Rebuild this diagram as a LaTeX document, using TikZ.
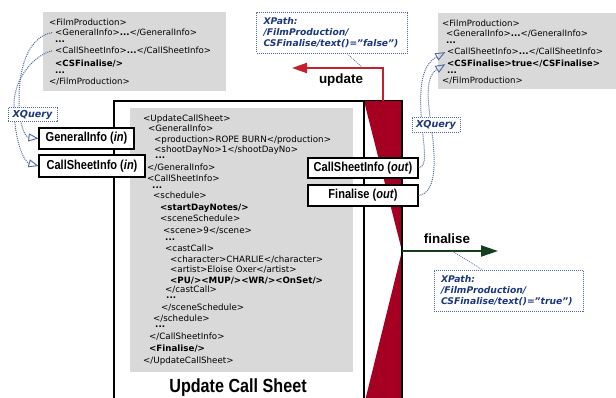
\documentclass[tikz,border=0pt]{standalone}
\usepackage{fontspec}
\setmainfont{DejaVu Sans}[ItalicFont={DejaVu Sans Oblique},BoldItalicFont={DejaVu Sans Bold Oblique}]
\newfontfamily\labelfont[FakeStretch=0.85]{Liberation Sans}
\newfontfamily\headfont{Liberation Sans}
\usetikzlibrary{arrows.meta,calc}

\definecolor{greybox}{RGB}{217,217,217}
\definecolor{barred}{RGB}{165,0,33}
\definecolor{arrowred}{RGB}{196,32,44}
\definecolor{darkgreen}{RGB}{22,62,30}
\definecolor{linkblue}{RGB}{80,104,155}
\definecolor{navy}{RGB}{28,55,125}

\tikzset{
  code/.style={anchor=base west, inner sep=0pt, font=\fontsize{8.7}{10}\selectfont},
  filmcode/.style={anchor=base west, inner sep=0pt, font=\fontsize{8.6}{10}\selectfont},
  tagbox/.style={draw, fill=white, line width=1.1pt, inner sep=0pt,
    font=\labelfont\bfseries\fontsize{13}{14}\selectfont},
  dots/.style={line width=1pt, dash pattern=on 1pt off 1pt},
  link/.style={linkblue, dots},
  xpathbox/.style={draw=linkblue, dots, fill=white, text=navy, align=left,
    inner xsep=7pt, inner ysep=0pt, font=\bfseries\itshape\fontsize{9.2}{11}\selectfont},
  xqbox/.style={draw=linkblue, dots, fill=white, text=navy, inner sep=0pt,
    font=\bfseries\itshape\fontsize{9.6}{10}\selectfont},
  openhead/.style={-{Triangle[open,length=10pt,width=8pt,line width=0.9pt]}},
  flowlabel/.style={font=\headfont\bfseries\fontsize{13.4}{15}\selectfont, inner sep=0pt},
}

\begin{document}
\begin{tikzpicture}[x=1pt,y=-1pt]
\useasboundingbox (0,0) rectangle (616,397);

% ---- source document (left) ----
\fill[greybox] (43,12) rectangle (226,91);
\node[filmcode] (l1) at (49,25) {<FilmProduction>};
\node[filmcode] (l2) at (55,35) {<GeneralInfo>\textbf{...}</GeneralInfo>};
\node[filmcode] (l3) at (55,42) {\textbf{...}};
\node[filmcode] (l4) at (55,53) {<CallSheetInfo>\textbf{...}</CallSheetInfo>};
\node[filmcode] (l5) at (55,66) {\textbf{<CSFinalise/>}};
\node[filmcode] (l6) at (55,73) {\textbf{...}};
\node[filmcode] (l7) at (49,84) {</FilmProduction>};

% ---- result document (right) ----
\fill[greybox] (438,13) rectangle (616,89);
\node[filmcode] (r1) at (442,26) {<FilmProduction>};
\node[filmcode] (r2) at (446,36) {<GeneralInfo>\textbf{...}</GeneralInfo>};
\node[filmcode] (r3) at (446,43) {\textbf{...}};
\node[filmcode] (r4) at (447,54) {<CallSheetInfo>\textbf{...}</CallSheetInfo>};
\node[filmcode] (r5) at (447,66) {\textbf{<CSFinalise>true</CSFinalise>}};
\node[filmcode] (r6) at (447,73) {\textbf{...}};
\node[filmcode] (r7) at (442,83) {</FilmProduction>};

% ---- task box ----
\draw[line width=1.3pt, fill=white] (114,405) -- (114,101) -- (402,101) -- (402,405);
\fill[barred] (364,101) -- (402,101) -- (402,251) -- cycle;
\fill[barred] (402,251) -- (402,405) -- (364,405) -- cycle;
\draw[line width=1.3pt] (364,101) -- (364,405);
\draw[line width=1.3pt] (402,101) -- (402,405);
\fill[greybox] (130,108) rectangle (353,372);

\node[code] (m1)  at (143,121) {<UpdateCallSheet>};
\node[code] (m2)  at (148,131) {<GeneralInfo>};
\node[code] (m3)  at (154,142) {<production>ROPE BURN</production>};
\node[code] (m4)  at (154,152) {<shootDayNo>1</shootDayNo>};
\node[code] (m5)  at (155,158) {\textbf{...}};
\node[code] (m6)  at (147,170) {</GeneralInfo>};
\node[code] (m7)  at (147,181) {<CallSheetInfo>};
\node[code] (m8)  at (152,188) {\textbf{...}};
\node[code] (m9)  at (153,198) {<schedule>};
\node[code] (m10) at (160,210) {\textbf{<startDayNotes/>}};
\node[code] (m11) at (160,221) {<sceneSchedule>};
\node[code] (m12) at (163,233) {<scene>9</scene>};
\node[code] (m13) at (165,240) {\textbf{...}};
\node[code] (m14) at (165,251) {<castCall>};
\node[code] (m15) at (170,262) {<character>CHARLIE</character>};
\node[code] (m16) at (170,272) {<artist>Eloise Oxer</artist>};
\node[code] (m17) at (170,283) {\textbf{<PU/><MUP/><WR/><OnSet/>}};
\node[code] (m18) at (165,292) {</castCall>};
\node[code] (m19) at (166,298) {\textbf{...}};
\node[code] (m20) at (161,310) {</sceneSchedule>};
\node[code] (m21) at (153,321) {</schedule>};
\node[code] (m22) at (155,327) {\textbf{...}};
\node[code] (m23) at (149,339) {</CallSheetInfo>};
\node[code] (m24) at (149,351) {\textbf{<Finalise/>}};
\node[code] (m25) at (143,363) {</UpdateCallSheet>};

\node[font=\labelfont\bfseries\fontsize{19}{22}\selectfont, inner sep=0pt] (title) at (238,388) {Update Call Sheet};

% ---- flows ----
\coordinate (updfoot) at (383,101);
\coordinate (updtip) at (292,68);
\coordinate (updlink) at (363,68);
\draw[arrowred, line width=2pt, -{Triangle[length=15pt,width=10pt]}] (updfoot) |- (updtip);
\node[flowlabel] (updlbl) at (341,80) {update};

\coordinate (fintail) at (402,251);
\coordinate (fintip) at (498,251);
\coordinate (finlink) at (452,251);
\draw[darkgreen, line width=2pt, -{Triangle[length=17pt,width=11pt]}] (fintail) -- (fintip);
\node[flowlabel] (finlbl) at (447,239) {finalise};

% ---- XPath conditions ----
\node[xpathbox, minimum width=151pt, minimum height=41pt, text width=137pt] (xp1) at (332,32.5)
  {XPath:\\/FilmProduction/\\CSFinalise/text()=”false”)};
\node[xpathbox, minimum width=149pt, minimum height=41pt, text width=135pt] (xp2) at (508.5,290.5)
  {XPath:\\/FilmProduction/\\CSFinalise/text()=”true”)};
\draw[link, line width=0.7pt] ($(xp1.south)+(15,0)$) -- (updlink);
\draw[link, line width=0.7pt] (finlink) -- ($(xp2.north)+(-26.5,0)$);

% ---- parameter boxes ----
\node[tagbox, minimum width=95pt, minimum height=21pt] (gin) at (86.5,138.5) {GeneralInfo (\textit{in})};
\node[tagbox, minimum width=106pt, minimum height=22pt] (cin) at (92,166) {CallSheetInfo (\textit{in})};
\node[tagbox, minimum width=110pt, minimum height=20pt] (cso) at (363,168) {CallSheetInfo (\textit{out})};
\node[tagbox, minimum width=110pt, minimum height=21pt] (fo) at (363,195.5) {Finalise (\textit{out})};

% ---- XQuery mappings ----
\draw[link, openhead, shorten <=3pt] (l2.west) .. controls (32,36) and (19,60) .. (19,100)
  .. controls (19,125) and (25,137) .. (gin.west);
\draw[link, openhead, shorten <=3pt] (l4.west) .. controls (34,55) and (14,78) .. (14,105)
  .. controls (14,140) and (24,162) .. (cin.west);
\draw[link, openhead, shorten >=2pt] (cso.east) .. controls (428,166) and (424,150) .. (422,125)
  .. controls (419,92) and (420,66) .. (r4.west);
\draw[link, openhead, shorten >=2pt] (fo.east) .. controls (437,193) and (436,160) .. (431,125)
  .. controls (427,96) and (426,76) .. (r5.west);

\node[xqbox, minimum width=49pt, minimum height=14pt] (xql) at (32.5,114.5) {XQuery};
\node[xqbox, minimum width=48pt, minimum height=15pt] (xqr) at (436,124.5) {XQuery};
\end{tikzpicture}
\end{document}
